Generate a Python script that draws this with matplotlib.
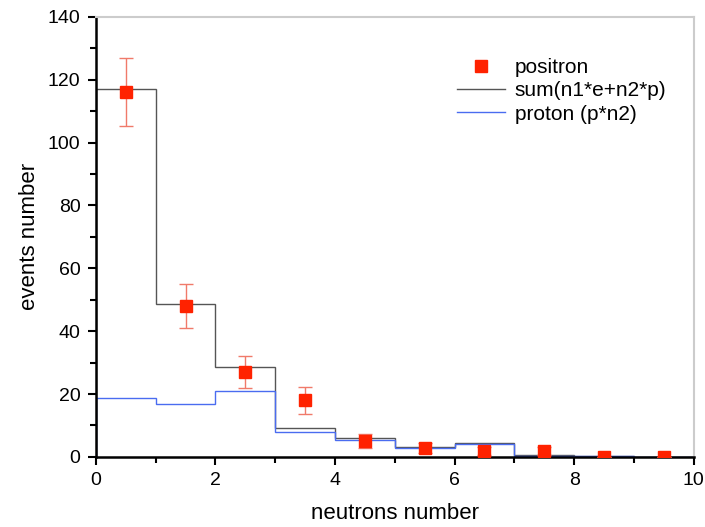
import numpy as np
import matplotlib.pyplot as plt
from matplotlib.ticker import MultipleLocator

plt.rcParams['font.family'] = ['Liberation Sans', 'DejaVu Sans']

# bin edges in neutron multiplicity
edges = [0, 1, 2, 3, 4, 5, 6, 7, 8, 9, 10]
# positron events (bin centres) and their errors
pos_x = [0.5, 1.5, 2.5, 3.5, 4.5, 5.5, 6.5, 7.5, 8.5, 9.5]
pos_y = [116, 48, 27, 18, 5, 2.8, 1.8, 1.8, 0, 0]
pos_err = [10.8, 6.9, 5.2, 4.2, 2.2, 1.7, 1.3, 1.3, 0, 0]
# sum(n1*e+n2*p) histogram
sum_vals = [117, 48.5, 28.5, 9.2, 6.1, 3.3, 4.4, 0.6, 0.4, 0]
# proton (p*n2) histogram
proton_vals = [18.9, 16.9, 20.9, 7.9, 5.4, 2.9, 4.0, 0.4, 0.3, 0]

fig = plt.figure(figsize=(7.05, 5.27), dpi=100)
ax = fig.add_axes([0.136, 0.133, 0.848, 0.835])

ax.stairs(sum_vals, edges, baseline=0, color='#555555', lw=1.0,
          label='sum(n1*e+n2*p)', zorder=2)
ax.stairs(proton_vals, edges, baseline=0, color='#4a6cf0', lw=1.0,
          label='proton (p*n2)', zorder=2)
ax.errorbar(pos_x, pos_y, yerr=pos_err, fmt='none', ecolor='#f07a6a',
            elinewidth=1.0, capsize=5, capthick=1.0, zorder=3)
ax.plot(pos_x, pos_y, 's', color='#ff2200', ms=8.5, mec='#ff2200',
        label='positron', zorder=4)

ax.set_xlim(0, 10)
ax.set_ylim(0, 140)
ax.xaxis.set_major_locator(MultipleLocator(2))
ax.xaxis.set_minor_locator(MultipleLocator(1))
ax.yaxis.set_major_locator(MultipleLocator(20))
ax.yaxis.set_minor_locator(MultipleLocator(10))
ax.tick_params(which='both', direction='out', width=1.5, labelsize=14)
ax.tick_params(which='major', length=6, pad=5)
ax.tick_params(which='minor', length=4)

for s in ['left', 'bottom']:
    ax.spines[s].set_linewidth(1.8)
for s in ['top', 'right']:
    ax.spines[s].set_color('#cccccc')
    ax.spines[s].set_linewidth(1.5)

ax.set_xlabel('neutrons number', fontsize=16, labelpad=10)
ax.set_ylabel('events number', fontsize=16, labelpad=6)

h, l = ax.get_legend_handles_labels()
order = [2, 0, 1]
ax.legend([h[i] for i in order], [l[i] for i in order], loc='upper right',
          frameon=False, fontsize=15, handlelength=2.3, handletextpad=0.45,
          borderaxespad=0.0, labelspacing=0.2, bbox_to_anchor=(0.968, 0.925))

fig.savefig('out.png', dpi=100)
